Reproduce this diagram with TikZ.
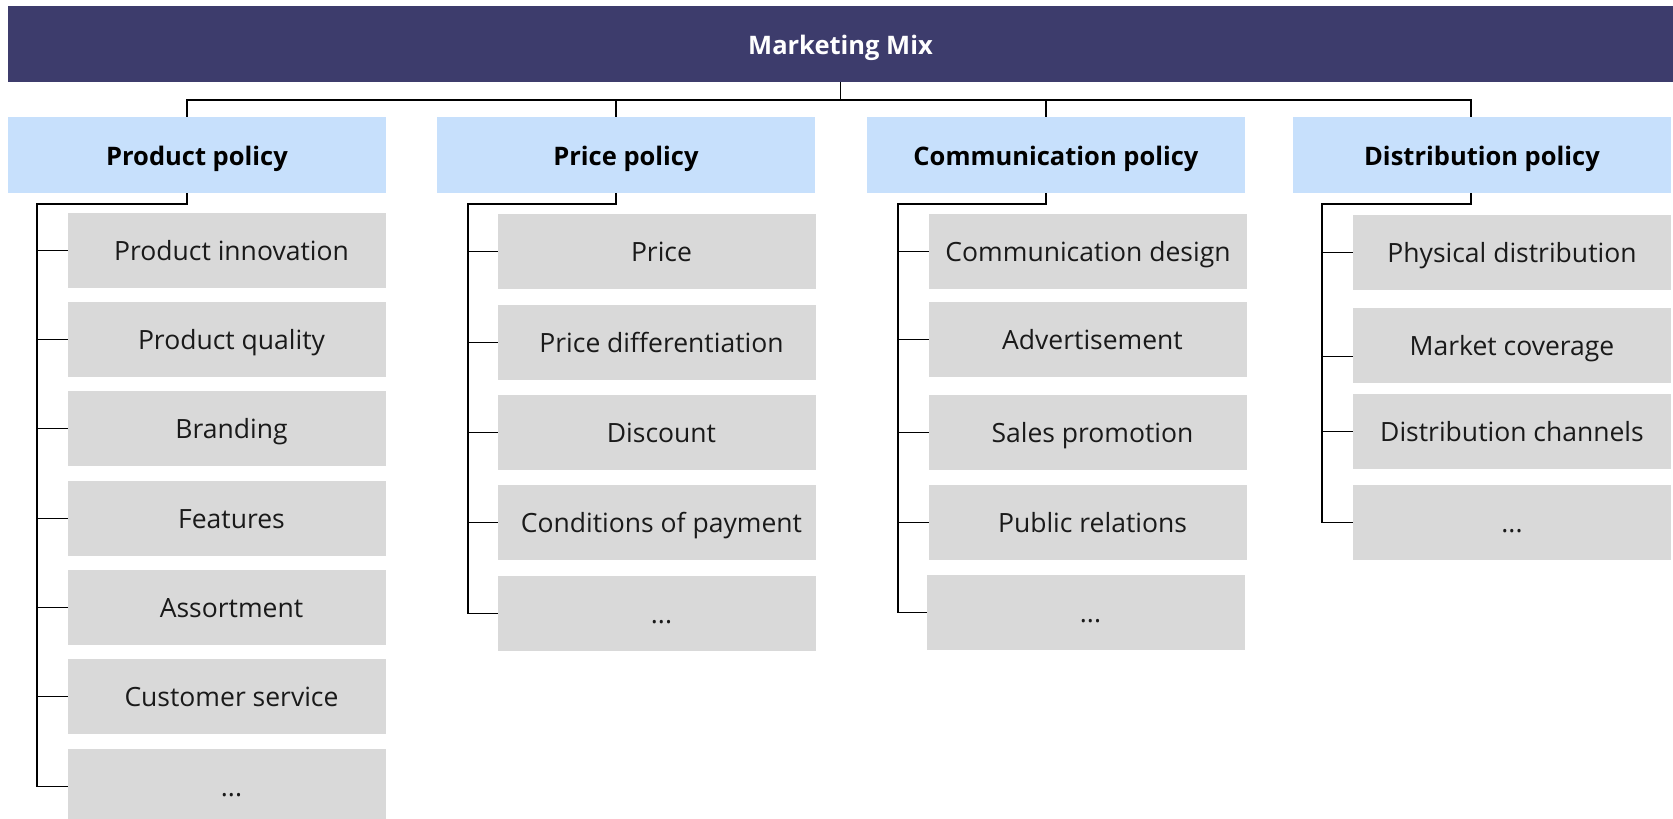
\documentclass[tikz,border=0pt]{standalone}
\usepackage{fontspec}
\setmainfont{Open Sans}
\definecolor{titlebg}{HTML}{3D3C6C}
\definecolor{headbg}{HTML}{C7E0FC}
\definecolor{itembg}{HTML}{D9D9D9}
\definecolor{ink}{HTML}{1A1A1A}
\begin{document}
\begin{tikzpicture}[x=1pt,y=-1pt,
  titlebox/.style={fill=titlebg,draw=none,inner sep=0pt,minimum width=1665pt,minimum height=76pt,
    text height=21pt,text depth=0pt,
    text=white,font=\fontsize{25.5}{30}\selectfont\bfseries},
  headbox/.style={fill=headbg,draw=none,inner sep=0pt,minimum width=378pt,minimum height=76pt,
    text height=21pt,text depth=0pt,
    text=black,font=\fontsize{25.5}{30}\selectfont\bfseries},
  itembox/.style={fill=itembg,draw=none,inner sep=0pt,minimum width=318pt,minimum height=75pt,
    text height=19pt,text depth=0pt,
    text=ink,font=\fontsize{26.5}{31}\selectfont},
  inset/.style={execute at begin node={\hspace*{9pt}}},
  conn/.style={draw=black,line width=1.6pt}]
\useasboundingbox (0,0) rectangle (1673,819);
\fill[white] (0,0) rectangle (1673,819);

% title
\node[titlebox] (title) at (840.5,44) {Marketing Mix};

% headers
\node[headbox] (hP) at (197,155) {Product policy};
\node[headbox] (hR) at (626,155) {Price policy};
\node[headbox] (hC) at (1056,155) {Communication policy};
\node[headbox] (hD) at (1482,155) {Distribution policy};

% product items
\node[itembox,inset] (p1) at (227,250.5) {Product innovation};
\node[itembox,inset] (p2) at (227,339.5) {Product quality};
\node[itembox,inset] (p3) at (227,428.5) {Branding};
\node[itembox,inset] (p4) at (227,518.5) {Features};
\node[itembox,inset] (p5) at (227,607.5) {Assortment};
\node[itembox,inset] (p6) at (227,696.5) {Customer service};
\node[itembox,inset] (p7) at (227,786.5) {...};

% price items
\node[itembox,inset] (r1) at (657,251.5) {Price};
\node[itembox,inset] (r2) at (657,342.5) {Price differentiation};
\node[itembox,inset] (r3) at (657,432.5) {Discount};
\node[itembox,inset] (r4) at (657,522.5) {Conditions of payment};
\node[itembox,inset] (r5) at (657,613.5) {...};

% communication items
\node[itembox] (c1) at (1088,251.5) {Communication design};
\node[itembox,inset] (c2) at (1088,339.5) {Advertisement};
\node[itembox,inset] (c3) at (1088,432.5) {Sales promotion};
\node[itembox,inset] (c4) at (1088,522.5) {Public relations};
\node[itembox,inset] (c5) at (1086,612.5) {...};

% distribution items
\node[itembox] (d1) at (1512,252.5) {Physical distribution};
\node[itembox] (d2) at (1512,345.5) {Market coverage};
\node[itembox] (d3) at (1512,431.5) {Distribution channels};
\node[itembox] (d4) at (1512,522.5) {...};

% helper coordinates
\coordinate (bus) at (0,100);
\coordinate (sub) at (0,204);
\coordinate (kP) at (187,0);
\coordinate (kR) at (616,0);
\coordinate (kC) at (1046,0);
\coordinate (kD) at (1471,0);
\coordinate (vP) at (37,0);
\coordinate (vR) at (468,0);
\coordinate (vC) at (898,0);
\coordinate (vD) at (1322,0);
\coordinate (d2b) at ([yshift=-11pt]d2.west);

% top connectors
\draw[conn] (title.south) -- (title.south |- bus);
\draw[conn] (kP |- hP.north) -- (kP |- bus) -- (kD |- bus) -- (kD |- hD.north);
\draw[conn] (kR |- bus) -- (kR |- hR.north);
\draw[conn] (kC |- bus) -- (kC |- hC.north);

% product subtree
\draw[conn] (kP |- hP.south) -- (kP |- sub) -- (vP |- sub) -- (vP |- p7.west) -- (p7.west);
\foreach \n in {p1,p2,p3,p4,p5,p6} \draw[conn] (vP |- \n.west) -- (\n.west);

% price subtree
\draw[conn] (kR |- hR.south) -- (kR |- sub) -- (vR |- sub) -- (vR |- r5.west) -- (r5.west);
\foreach \n in {r1,r2,r3,r4} \draw[conn] (vR |- \n.west) -- (\n.west);

% communication subtree
\draw[conn] (kC |- hC.south) -- (kC |- sub) -- (vC |- sub) -- (vC |- c5.west) -- (c5.west);
\foreach \n in {c1,c2,c3,c4} \draw[conn] (vC |- \n.west) -- (\n.west);

% distribution subtree
\draw[conn] (kD |- hD.south) -- (kD |- sub) -- (vD |- sub) -- (vD |- d4.west) -- (d4.west);
\draw[conn] (vD |- d1.west) -- (d1.west);
\draw[conn] (vD |- d2b) -- (d2b);
\draw[conn] (vD |- d3.west) -- (d3.west);
\end{tikzpicture}
\end{document}
